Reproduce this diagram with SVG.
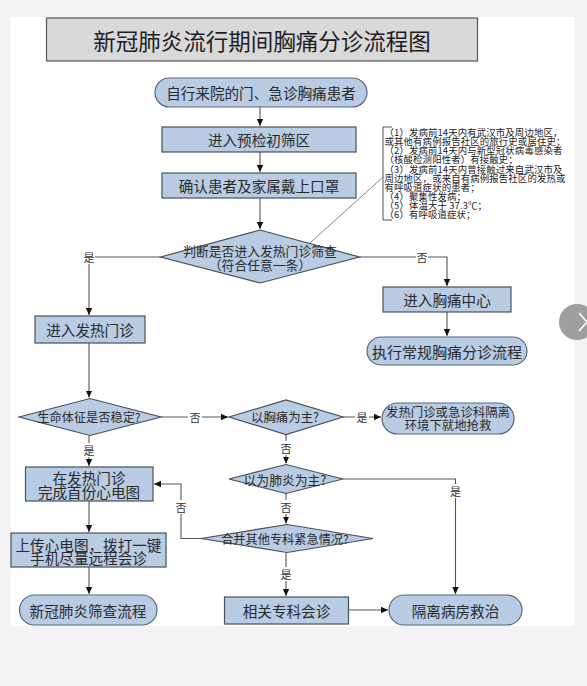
<svg xmlns="http://www.w3.org/2000/svg" width="587" height="686" viewBox="0 0 587 686">
<defs>
<marker id="arr" markerWidth="8" markerHeight="8" refX="7" refY="4" orient="auto" markerUnits="userSpaceOnUse">
<path d="M0,0.8 L7,4 L0,7.2 Z" fill="#111"/>
</marker>
<style>
text{font-family:"Noto Sans CJK SC","Noto Sans",sans-serif;fill:#2a2a2a;dominant-baseline:central;}
.n{fill:#b8cce4;stroke:#4a4f5a;stroke-width:1.2;}
.p{fill:#b8cce4;stroke:#5b6680;stroke-width:1.2;}
.t{font-size:14.6px;text-anchor:middle;}
.d{font-size:12.4px;text-anchor:middle;}
.c{fill:none;stroke:#555;stroke-width:1.1;}
.lb{font-size:11px;text-anchor:middle;fill:#333;}
.lbg{fill:#fff;}
.a{font-size:9.4px;letter-spacing:0.15px;fill:#222;}
</style>
</defs>
<rect x="0" y="0" width="587" height="686" fill="#f3f3f3"/>
<rect x="10.5" y="17" width="564" height="609" fill="#fff"/>

<g id="title">
<rect x="46.5" y="18" width="431" height="43" fill="#d9d9d9" stroke="#555" stroke-width="1.2"/>
<text x="262" y="39.5" style="font-size:22.5px;text-anchor:middle;fill:#1e1e1e;">新冠肺炎流行期间胸痛分诊流程图</text>
</g>

<g id="connectors">
<path class="c" d="M260,107 V126" marker-end="url(#arr)"/>
<path class="c" d="M260,152 V172" marker-end="url(#arr)"/>
<path class="c" d="M260,198 V229" marker-end="url(#arr)"/>
<path class="c" d="M160.5,257 H89 V315" marker-end="url(#arr)"/>
<path class="c" d="M359.5,257 H447 V286" marker-end="url(#arr)"/>
<path class="c" d="M447,312 V336" marker-end="url(#arr)"/>
<path class="c" d="M89,343 V397.5" marker-end="url(#arr)"/>
<path class="c" d="M161,417 H228" marker-end="url(#arr)"/>
<path class="c" d="M343,417 H381" marker-end="url(#arr)"/>
<path class="c" d="M89,435.5 V466" marker-end="url(#arr)"/>
<path class="c" d="M286,434.5 V463.5" marker-end="url(#arr)"/>
<path class="c" d="M343,479 H455.5 V594" marker-end="url(#arr)"/>
<path class="c" d="M286,493.5 V523.5" marker-end="url(#arr)"/>
<path class="c" d="M201,538.5 H181 V484 H154" marker-end="url(#arr)"/>
<path class="c" d="M89,501 V532" marker-end="url(#arr)"/>
<path class="c" d="M89,567 V594" marker-end="url(#arr)"/>
<path class="c" d="M286,552.5 V596" marker-end="url(#arr)"/>
<path class="c" d="M348.5,610 H388" marker-end="url(#arr)"/>
<path class="c" d="M310,243 L383,177" style="stroke:#777;stroke-width:0.9"/>
<rect class="lbg" x="83" y="250" width="12" height="14"/><text class="lb" x="89" y="257">是</text>
<rect class="lbg" x="416" y="250" width="12" height="14"/><text class="lb" x="422" y="257">否</text>
<rect class="lbg" x="188" y="410" width="14" height="14"/><text class="lb" x="195" y="417">否</text>
<rect class="lbg" x="355" y="410" width="14" height="14"/><text class="lb" x="362" y="417">是</text>
<rect class="lbg" x="83" y="443" width="12" height="14"/><text class="lb" x="89" y="450">是</text>
<rect class="lbg" x="280" y="441" width="12" height="14"/><text class="lb" x="286" y="448">否</text>
<rect class="lbg" x="449" y="484" width="13" height="14"/><text class="lb" x="455.5" y="491">是</text>
<rect class="lbg" x="280" y="500" width="12" height="14"/><text class="lb" x="286" y="507">否</text>
<rect class="lbg" x="175" y="500" width="12" height="14"/><text class="lb" x="181" y="507">否</text>
<rect class="lbg" x="280" y="567" width="12" height="14"/><text class="lb" x="286" y="574">是</text>
</g>

<g id="start">
<rect class="p" x="155" y="78" width="212" height="29" rx="14.5"/>
<text class="t" x="261" y="92.5">自行来院的门、急诊胸痛患者</text>
</g>
<g id="precheck">
<rect class="n" x="162" y="127" width="194" height="25"/>
<text class="t" x="259" y="139.5">进入预检初筛区</text>
</g>
<g id="mask">
<rect class="n" x="162" y="173" width="194" height="25"/>
<text class="t" x="259" y="185.5">确认患者及家属戴上口罩</text>
</g>
<g id="judge">
<polygon class="n" points="160.5,257 260,230 359.5,257 260,283"/>
<text class="d" style="font-size:12.8px"><tspan x="260" y="250">判断是否进入发热门诊筛查</tspan><tspan x="260" y="263.5">（符合任意一条）</tspan></text>
</g>
<g id="criteria">
<path d="M392,127 H383 V220 H392" fill="none" stroke="#555" stroke-width="1"/>
<text class="a"><tspan x="384.5" y="132">（1）发病前14天内有武汉市及周边地区，</tspan><tspan x="384.5" y="141">或其他有病例报告社区的旅行史或居住史；</tspan><tspan x="384.5" y="150">（2）发病前14天内与新型冠状病毒感染者</tspan><tspan x="384.5" y="159">（核酸检测阳性者）有接触史；</tspan><tspan x="384.5" y="168.5">（3）发病前14天内曾接触过来自武汉市及</tspan><tspan x="384.5" y="178">周边地区，或来自有病例报告社区的发热或</tspan><tspan x="384.5" y="187">有呼吸道症状的患者；</tspan><tspan x="384.5" y="196">（4）聚集性发病；</tspan><tspan x="384.5" y="205">（5）体温大于 37.3℃；</tspan><tspan x="384.5" y="214">（6）有呼吸道症状；</tspan></text>
</g>
<g id="chestcenter">
<rect class="n" x="383" y="287" width="128" height="25"/>
<text class="t" x="447" y="299.5">进入胸痛中心</text>
</g>
<g id="routine">
<rect class="p" x="367" y="337" width="160" height="28" rx="14"/>
<text class="t" x="447" y="351" style="font-size:15px">执行常规胸痛分诊流程</text>
</g>
<g id="fever">
<rect class="n" x="35" y="316" width="110" height="27"/>
<text class="t" x="90" y="329.5">进入发热门诊</text>
</g>
<g id="vital">
<polygon class="n" points="19,417 90,398.5 161,417 90,435.5"/>
<text class="d" x="89" y="417" style="font-size:12.2px">生命体征是否稳定?</text>
</g>
<g id="chestmain">
<polygon class="n" points="229,417 286,400 343,417 286,434.5"/>
<text class="d" x="285" y="417">以胸痛为主?</text>
</g>
<g id="rescue">
<rect class="p" x="382" y="403" width="132" height="31" rx="15.5"/>
<text class="t" style="font-size:12.4px"><tspan x="448" y="412">发热门诊或急诊科隔离</tspan><tspan x="448" y="424.5">环境下就地抢救</tspan></text>
</g>
<g id="ecg">
<rect class="n" x="25.5" y="467" width="127.5" height="34"/>
<text class="t"><tspan x="89" y="477">在发热门诊</tspan><tspan x="89" y="491">完成首份心电图</tspan></text>
</g>
<g id="pneumonia">
<polygon class="n" points="229,479 286,464.5 343,479 286,493.5"/>
<text class="d" x="285" y="479" style="font-size:12.8px">以为肺炎为主?</text>
</g>
<g id="other">
<polygon class="n" points="201,538.5 287,524.5 373,538.5 287,552.5"/>
<text class="d" x="285" y="538.5" style="font-size:12.2px">合并其他专科紧急情况?</text>
</g>
<g id="upload">
<rect class="n" x="11" y="533" width="155" height="34"/>
<text class="t"><tspan x="88.5" y="543.5">上传心电图，拨打一键</tspan><tspan x="88.5" y="557">手机尽量远程会诊</tspan></text>
</g>
<g id="covid">
<rect class="p" x="19.5" y="595" width="137.5" height="30" rx="15"/>
<text class="t" x="88" y="610">新冠肺炎筛查流程</text>
</g>
<g id="consult">
<rect class="n" x="224.5" y="597" width="124" height="27"/>
<text class="t" x="286.5" y="610.5">相关专科会诊</text>
</g>
<g id="isolation">
<rect class="p" x="389" y="595" width="133" height="30" rx="15"/>
<text class="t" x="455.5" y="610">隔离病房救治</text>
</g>

<g id="overlay">
<circle cx="577" cy="322" r="18" fill="#8e8e8e" opacity="0.85"/>
<path d="M579,313 L587,322 L579,331" fill="none" stroke="#fff" stroke-width="1.6"/>
</g>
</svg>
